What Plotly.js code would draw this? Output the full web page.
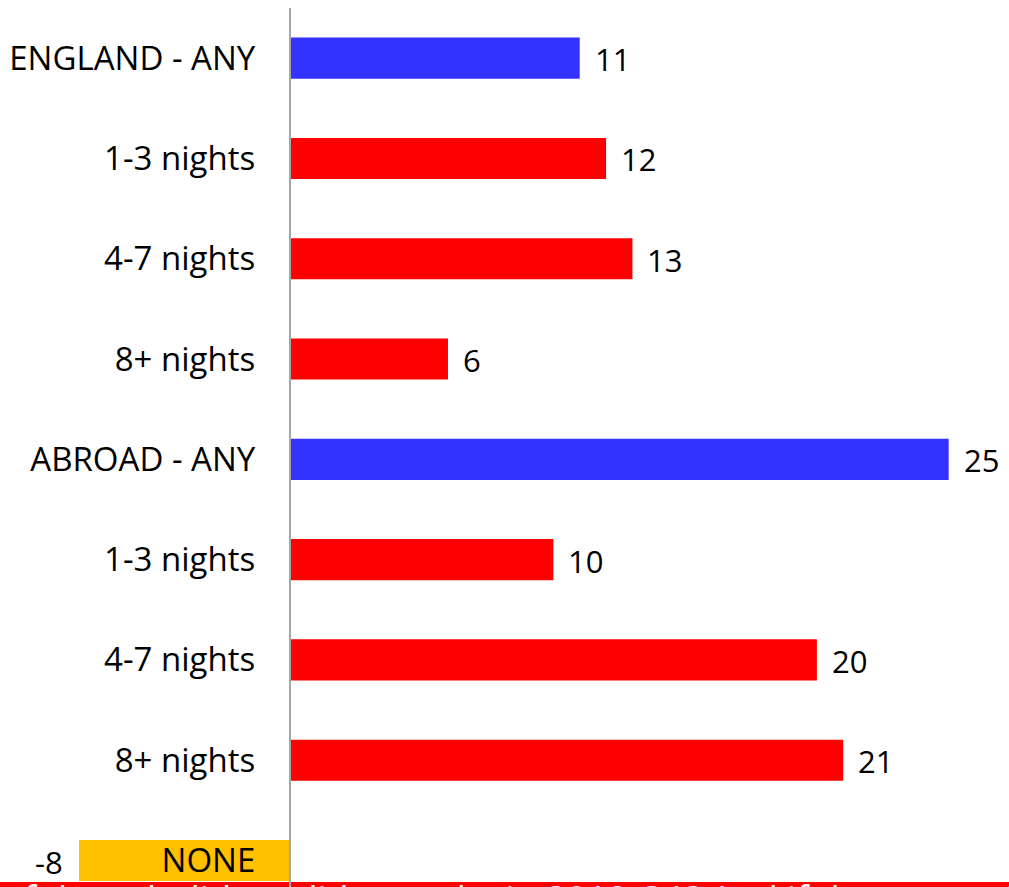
<!DOCTYPE html>
<html>
<head>
<meta charset="utf-8">
<script src="https://cdn.plot.ly/plotly-3.0.1.min.js"></script>
<style>
  html, body { margin: 0; padding: 0; background: #ffffff; overflow: hidden; }
  #chart { width: 1009px; height: 887px; }
</style>
</head>
<body>
<div id="chart"></div>
<script>
// Data
const categories = ["ENGLAND - ANY", "1-3 nights", "4-7 nights", "8+ nights",
                    "ABROAD - ANY", "1-3 nights", "4-7 nights", "8+ nights", "NONE"];
const values = [11, 12, 13, 6, 25, 10, 20, 21, -8];
const groups = ["total", "sub", "sub", "sub", "total", "sub", "sub", "sub", "none"];
const footerText = "of these holidays did not take in 2019 Q1? And if they are going to visit";

// Styles
const colorMap = { total: "#3333FF", sub: "#FF0000", none: "#FFC000" };
const xRange = [-11.0, 27.29];
const positions = categories.map((c, i) => i);

const trace = {
  type: "bar",
  orientation: "h",
  x: values,
  y: positions,
  width: 0.41,
  marker: { color: groups.map(g => colorMap[g]), line: { width: 0 } },
  hoverinfo: "skip",
  showlegend: false
};

const annotations = values.map((v, i) => ({
  x: v,
  y: positions[i],
  xref: "x",
  yref: "y",
  yshift: -1,
  text: String(v),
  showarrow: false,
  xanchor: v >= 0 ? "left" : "right",
  xshift: v >= 0 ? 13 : -14,
  font: { family: "Open Sans", size: 31, color: "#000000" }
}));

annotations.push({
  x: 0.0, y: (887 - 872) / 879,
  xref: "paper", yref: "paper",
  xanchor: "left", yanchor: "top",
  text: footerText,
  showarrow: false,
  font: { family: "Open Sans", size: 36, color: "#FFFFFF" }
});

const layout = {
  width: 1009,
  height: 887,
  margin: { l: 0, r: 0, t: 8, b: 0, pad: 0 },
  paper_bgcolor: "#ffffff",
  plot_bgcolor: "#ffffff",
  bargap: 0.59,
  xaxis: {
    range: xRange,
    showgrid: false,
    zeroline: false,
    showticklabels: false,
    ticks: "",
    showline: false,
    fixedrange: true
  },
  yaxis: {
    range: [8.264, -0.5],
    anchor: "free",
    position: (0 - xRange[0]) / (xRange[1] - xRange[0]),
    tickmode: "array",
    tickvals: positions,
    ticktext: categories,
    ticks: "",
    ticklabelstandoff: 27,
    showgrid: false,
    zeroline: false,
    showline: true,
    linecolor: "#A6A6A6",
    linewidth: 2,
    layer: "above traces",
    tickfont: { family: "Open Sans", size: 33, color: "#000000" },
    fixedrange: true
  },
  shapes: [{
    type: "rect",
    xref: "paper", yref: "paper",
    x0: 0, x1: 1,
    y0: 0, y1: (887 - 882) / 879,
    fillcolor: "#FF0000",
    line: { width: 0 },
    layer: "below"
  }],
  annotations: annotations
};

Plotly.newPlot("chart", [trace], layout, { displayModeBar: false, staticPlot: true });
</script>
</body>
</html>
